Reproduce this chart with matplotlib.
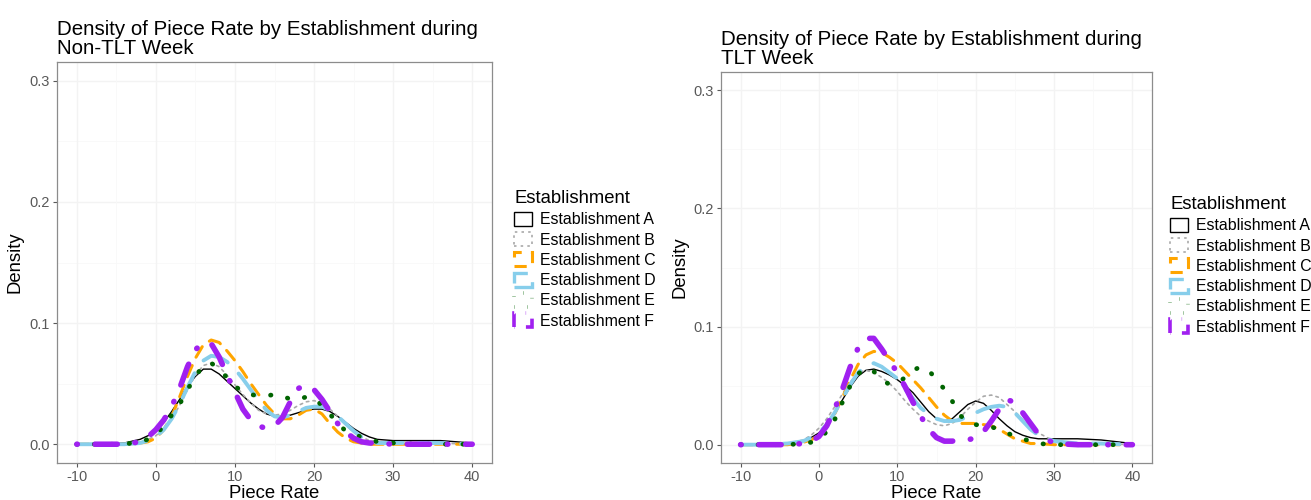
import matplotlib
matplotlib.use("Agg")
import matplotlib.pyplot as plt
import matplotlib.patches as mpatches

plt.rcParams['font.family'] = ['Liberation Sans', 'DejaVu Sans']

# ---------------- data ----------------
piece_rate = [-10, -7, -4, -2, -1, 0, 1, 2, 3, 4, 5, 6, 7, 8, 9, 10, 11, 12, 13, 14,
              15, 16, 17, 18, 19, 20, 21, 22, 23, 24, 25, 26, 27, 28, 30, 33, 36, 40]

establishments = ["Establishment A", "Establishment B", "Establishment C",
                  "Establishment D", "Establishment E", "Establishment F"]

# Non-TLT week densities
non_tlt_A = [0, 0, 0.001, 0.004, 0.007, 0.011, 0.018, 0.027, 0.037, 0.048, 0.056, 0.062, 0.062, 0.058,
             0.052, 0.046, 0.040, 0.034, 0.029, 0.025, 0.023, 0.023, 0.024, 0.026, 0.028, 0.029, 0.029,
             0.027, 0.023, 0.018, 0.013, 0.009, 0.006, 0.004, 0.003, 0.003, 0.003, 0.001]
non_tlt_B = [0, 0, 0.0005, 0.002, 0.004, 0.007, 0.013, 0.021, 0.032, 0.045, 0.057, 0.065, 0.067, 0.064,
             0.057, 0.049, 0.041, 0.034, 0.028, 0.025, 0.024, 0.025, 0.028, 0.032, 0.035, 0.036, 0.034,
             0.029, 0.023, 0.016, 0.010, 0.006, 0.003, 0.002, 0.001, 0.001, 0.001, 0.0]
non_tlt_C = [0, 0, 0, 0.001, 0.002, 0.005, 0.012, 0.023, 0.039, 0.056, 0.071, 0.082, 0.086, 0.084,
             0.077, 0.069, 0.060, 0.050, 0.041, 0.032, 0.025, 0.021, 0.021, 0.024, 0.028, 0.029, 0.025,
             0.017, 0.010, 0.005, 0.002, 0.001, 0, 0, 0, 0, 0, 0]
non_tlt_D = [0, 0, 0, 0.001, 0.003, 0.006, 0.012, 0.021, 0.033, 0.047, 0.060, 0.069, 0.073, 0.072,
             0.068, 0.062, 0.054, 0.045, 0.036, 0.028, 0.023, 0.022, 0.024, 0.027, 0.030, 0.031, 0.031,
             0.028, 0.023, 0.017, 0.011, 0.006, 0.003, 0.001, 0.001, 0.001, 0.001, 0]
non_tlt_E = [0, 0, 0, 0.002, 0.004, 0.008, 0.015, 0.024, 0.033, 0.045, 0.056, 0.065, 0.067, 0.062,
             0.055, 0.048, 0.043, 0.041, 0.040, 0.040, 0.041, 0.040, 0.037, 0.037, 0.039, 0.038, 0.032,
             0.025, 0.017, 0.011, 0.008, 0.006, 0.004, 0.002, 0.001, 0, 0, 0]
non_tlt_F = [0, 0, 0, 0.002, 0.006, 0.012, 0.020, 0.031, 0.046, 0.064, 0.078, 0.084, 0.083, 0.072,
             0.057, 0.043, 0.029, 0.020, 0.015, 0.013, 0.015, 0.022, 0.035, 0.046, 0.049, 0.045, 0.037,
             0.027, 0.017, 0.010, 0.005, 0.002, 0.001, 0.001, 0, 0, 0, 0]

# TLT week densities
tlt_A = [0, 0, 0.001, 0.003, 0.006, 0.010, 0.017, 0.027, 0.038, 0.049, 0.058, 0.063, 0.064, 0.062,
         0.059, 0.055, 0.050, 0.044, 0.036, 0.028, 0.022, 0.020, 0.022, 0.028, 0.034, 0.037, 0.035,
         0.029, 0.022, 0.016, 0.011, 0.008, 0.006, 0.005, 0.005, 0.005, 0.004, 0.001]
tlt_B = [0, 0, 0.001, 0.004, 0.008, 0.014, 0.022, 0.032, 0.043, 0.053, 0.061, 0.063, 0.061, 0.057,
         0.052, 0.045, 0.037, 0.030, 0.024, 0.020, 0.017, 0.016, 0.018, 0.023, 0.030, 0.036, 0.041,
         0.042, 0.040, 0.034, 0.028, 0.021, 0.015, 0.010, 0.003, 0.001, 0.001, 0]
tlt_C = [0, 0, 0, 0.002, 0.004, 0.008, 0.016, 0.026, 0.040, 0.055, 0.068, 0.076, 0.079, 0.078,
         0.074, 0.069, 0.062, 0.055, 0.048, 0.040, 0.032, 0.025, 0.020, 0.018, 0.018, 0.018, 0.017,
         0.016, 0.013, 0.009, 0.005, 0.003, 0.001, 0.001, 0, 0, 0, 0]
tlt_D = [0, 0, 0.001, 0.003, 0.006, 0.010, 0.017, 0.027, 0.039, 0.051, 0.061, 0.067, 0.069, 0.066,
         0.061, 0.056, 0.047, 0.039, 0.031, 0.026, 0.022, 0.020, 0.020, 0.021, 0.024, 0.027, 0.030,
         0.032, 0.033, 0.032, 0.027, 0.020, 0.013, 0.008, 0.003, 0.001, 0.001, 0]
tlt_E = [0, 0, 0, 0.001, 0.002, 0.005, 0.011, 0.021, 0.036, 0.050, 0.060, 0.065, 0.062, 0.055,
         0.051, 0.052, 0.057, 0.063, 0.066, 0.063, 0.055, 0.047, 0.037, 0.025, 0.019, 0.017, 0.016,
         0.015, 0.013, 0.010, 0.007, 0.005, 0.003, 0.001, 0, 0, 0, 0]
tlt_F = [0, 0, 0, 0.001, 0.003, 0.007, 0.016, 0.030, 0.047, 0.066, 0.082, 0.090, 0.090, 0.081,
         0.071, 0.061, 0.049, 0.036, 0.024, 0.013, 0.006, 0.003, 0.003, 0.004, 0.004, 0.006, 0.011,
         0.020, 0.030, 0.038, 0.036, 0.027, 0.018, 0.009, 0.001, 0, 0, 0]

titles = ["Density of Piece Rate by Establishment during\nNon-TLT Week",
          "Density of Piece Rate by Establishment during\nTLT Week"]
x_ticks = [-10, 0, 10, 20, 30, 40]
y_ticks = [0.0, 0.1, 0.2, 0.3]

# ---------------- styles ----------------
styles = [
    dict(color="black", lw=1.0, ls="-", klw=1.0),
    dict(color="#A9A9A9", lw=1.2, ls=(0, (1.5, 2.5)), klw=1.2),
    dict(color="#FFA500", lw=2.2, ls=(0, (4, 3)), klw=2.2),
    dict(color="#87CEEB", lw=2.8, ls=(0, (7, 4)), klw=2.4),
    dict(color="#006400", lw=3.4, ls=(0, (0.1, 3.6)), klw=2.6),
    dict(color="#A020F0", lw=4.0, ls=(0, (0.1, 3.2, 4, 3.2)), klw=2.6),
]

W, H = 1311, 500
fig = plt.figure(figsize=(W / 100, H / 100), dpi=100)

panels = [
    dict(box=(57, 62, 492, 463), data=[non_tlt_A, non_tlt_B, non_tlt_C, non_tlt_D, non_tlt_E, non_tlt_F],
         leg=(514, 190)),
    dict(box=(721, 72, 1152, 463), data=[tlt_A, tlt_B, tlt_C, tlt_D, tlt_E, tlt_F],
         leg=(1170, 196)),
]

for p, title in zip(panels, titles):
    l, t, r, b = p["box"]
    ax = fig.add_axes([l / W, 1 - b / H, (r - l) / W, (b - t) / H])
    ax.set_facecolor("white")
    for yv in y_ticks:
        ax.axhline(yv, color="#f3f3f3", lw=1.0, zorder=0)
    for yv in [0.05, 0.15, 0.25]:
        ax.axhline(yv, color="#f8f8f8", lw=0.6, zorder=0)
    for xv in x_ticks:
        ax.axvline(xv, color="#f3f3f3", lw=1.0, zorder=0)
    for xv in [-5, 5, 15, 25, 35]:
        ax.axvline(xv, color="#f8f8f8", lw=0.6, zorder=0)
    for series, st, name in zip(p["data"], styles, establishments):
        ax.plot(piece_rate, series, color=st["color"], lw=st["lw"], linestyle=st["ls"],
                dash_capstyle="round", solid_capstyle="round", label=name, zorder=3)
    ax.set_xlim(-12.5, 42.5)
    ax.set_ylim(-0.0155, 0.3155)
    ax.set_xticks(x_ticks)
    ax.set_xticklabels([str(v) for v in x_ticks])
    ax.set_yticks(y_ticks)
    ax.set_yticklabels([f"{v:.1f}" for v in y_ticks])
    ax.tick_params(axis="both", labelsize=10.5, colors="#595959", length=3, width=0.8, pad=2)
    for s in ax.spines.values():
        s.set_color("#8c8c8c")
        s.set_linewidth(0.9)
    ax.set_xlabel("Piece Rate", fontsize=13.3, color="black", labelpad=1)
    ax.set_ylabel("Density", fontsize=13.3, color="black", labelpad=4)
    ax.set_title(title, loc="left", fontsize=14.8, color="black", pad=6, linespacing=0.95)

    handles = []
    for st, name in zip(styles, establishments):
        handles.append(mpatches.Patch(facecolor="none", edgecolor=st["color"],
                                      linestyle=st["ls"], linewidth=st["klw"], label=name))
    lx, ly = p["leg"]
    leg = fig.legend(handles=handles, loc="upper left", bbox_to_anchor=(lx / W, 1 - ly / H),
                     title="Establishment", frameon=False, fontsize=11.4, title_fontsize=13.3,
                     handlelength=1.15, handleheight=1.0, handletextpad=0.5, labelspacing=0.3,
                     borderaxespad=0, borderpad=0)
    leg._legend_box.align = "left"

fig.savefig("out.png", dpi=100, facecolor="white")
